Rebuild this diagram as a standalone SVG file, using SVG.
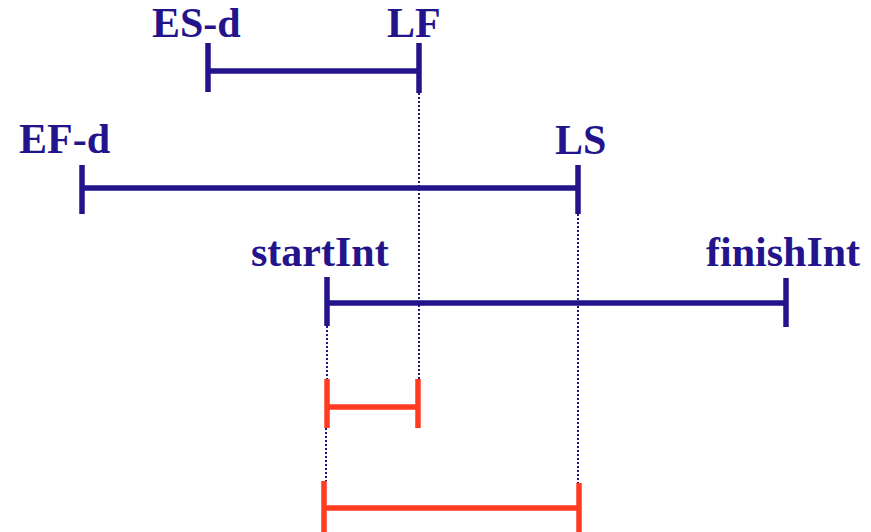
<svg xmlns="http://www.w3.org/2000/svg" width="871" height="532" viewBox="0 0 871 532">
<style>
.lbl{font-family:"Liberation Serif","Times New Roman",serif;font-weight:bold;font-size:42px;fill:#24148C}
.blue{stroke:#24148C;stroke-width:5.5;fill:none}
.red{stroke:#FF3B22;stroke-width:5.5;fill:none}
.dot{stroke:#24148C;stroke-width:2;stroke-dasharray:2 2;fill:none}
</style>
<rect width="871" height="532" fill="#FFFFFF"/>
<g id="connectors">
<path class="dot" d="M419 93 V379"/>
<path class="dot" d="M578 214 V483"/>
<path class="dot" d="M327 326 V379"/>
<path class="dot" d="M326 428 V481"/>
</g>
<g id="esd-lf">
<path class="blue" d="M208 43 V92 M208 71 H419 M419 43 V93"/>
<text class="lbl" x="152" y="37">ES-d</text>
<text class="lbl" x="387" y="37">LF</text>
</g>
<g id="efd-ls">
<path class="blue" d="M82 165 V214 M82 188 H578 M578 165 V214"/>
<text class="lbl" x="19" y="153">EF-d</text>
<text class="lbl" x="555" y="154">LS</text>
</g>
<g id="interval">
<path class="blue" d="M327 277 V326 M327 303 H786 M786 278 V327"/>
<text class="lbl" x="251" y="266">startInt</text>
<text class="lbl" x="706" y="266">finishInt</text>
</g>
<g id="red1">
<path class="red" d="M327 379 V428 M327 407 H418 M418 379 V428"/>
</g>
<g id="red2">
<path class="red" d="M324 481 V532 M324 508 H579 M579 483 V532"/>
</g>
</svg>
